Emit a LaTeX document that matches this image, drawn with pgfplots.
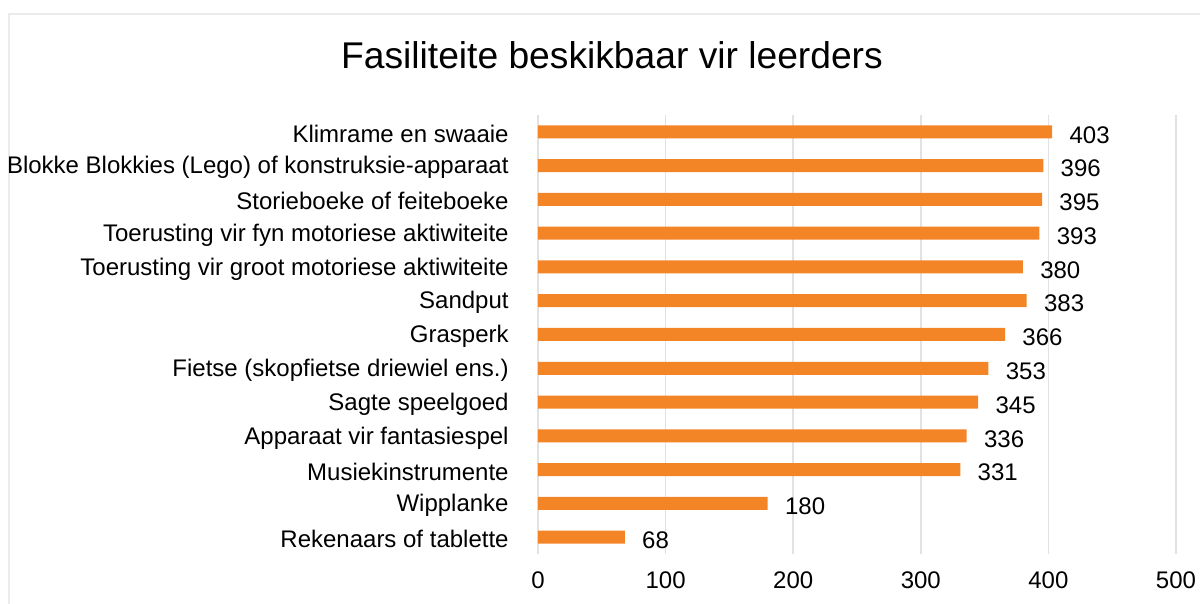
\documentclass[border=0pt]{standalone}
\usepackage{pgfplots}
\pgfplotsset{compat=1.18}
\usepackage{fontspec}
\setmainfont{Liberation Sans}
\definecolor{barorange}{RGB}{244,133,39}
\definecolor{gridgray}{RGB}{226,226,226}
\definecolor{bordergray}{RGB}{235,235,235}
\begin{document}
\begin{tikzpicture}
\useasboundingbox (0,0) rectangle (600pt,302pt);
\draw[bordergray, line width=1pt] (4.5pt,-2pt) -- (4.5pt,295pt) -- (602pt,295pt);
\begin{axis}[
  at={(269pt,25pt)}, anchor=south west,
  scale only axis,
  width=319pt, height=219.5pt,
  xmin=0, xmax=500,
  ymin=-0.5, ymax=12.5,
  axis line style={draw=none},
  xtick={0,100,200,300,400,500},
  ytick={0,1,2,3,4,5,6,7,8,9,10,11,12},
  yticklabels={Rekenaars of tablette, Wipplanke, Musiekinstrumente, Apparaat vir fantasiespel, Sagte speelgoed, {Fietse (skopfietse driewiel ens.)}, Grasperk, Sandput, Toerusting vir groot motoriese aktiwiteite, Toerusting vir fyn motoriese aktiwiteite, Storieboeke of feiteboeke, Blokke Blokkies (Lego) of konstruksie-apparaat, Klimrame en swaaie},
  major tick length=0pt,
  xmajorgrids, grid style={gridgray, line width=0.8pt},
  tick label style={font=\fontsize{12}{14}\selectfont, text=black},
  /pgf/number format/assume math mode=true,
  yticklabel style={inner sep=0pt, anchor=east, xshift=-14.5pt, yshift=-1pt},
  xticklabel style={inner sep=0pt, anchor=north, yshift=-8.7pt},
  title={Fasiliteite beskikbaar vir leerders},
  title style={font=\fontsize{18.6}{22}\selectfont, at={(rel axis cs:0.116,1.109)}, anchor=center, inner sep=0pt},
  point meta=x,
  nodes near coords,
  every node near coord/.append style={font=\fontsize{12}{14}\selectfont, text=black, anchor=west, inner sep=0pt, xshift=8.5pt, yshift=-1.5pt, /pgf/number format/assume math mode=true},
  clip=false,
]
\addplot[xbar, bar width=6.5pt, fill=barorange, draw=none] coordinates {
  (68,0) (180,1) (331,2) (336,3) (345,4) (353,5) (366,6) (383,7) (380,8) (393,9) (395,10) (396,11) (403,12)
};
\end{axis}
\end{tikzpicture}
\end{document}
